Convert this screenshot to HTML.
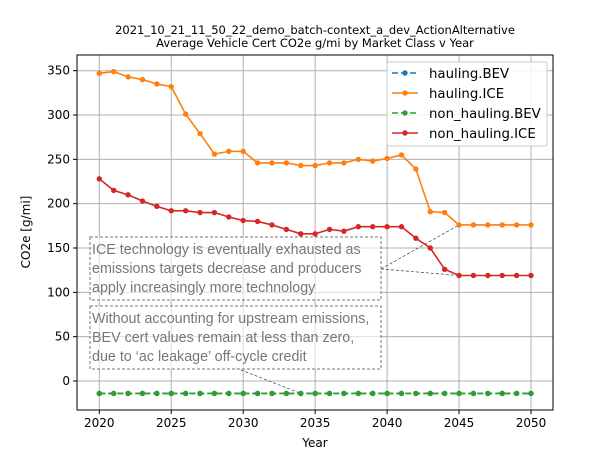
<!DOCTYPE html>
<html><head><meta charset="utf-8"><style>
body{margin:0;background:#fff;}
svg{font-family:"DejaVu Sans","Liberation Sans",sans-serif;}
</style></head><body>
<svg id="chart" width="614" height="461">
<text x="315" y="34" font-size="11.5" text-anchor="middle">2021_10_21_11_50_22_demo_batch-context_a_dev_ActionAlternative</text>
<text x="315" y="47" font-size="11.5" text-anchor="middle">Average Vehicle Cert CO2e g/mi  by Market Class v Year</text>
<g id="grid"></g>
<g id="ann"></g>
<g id="series"></g>
<rect x="77" y="55" width="476" height="355" fill="none" stroke="#000" stroke-width="1"/>
<g id="axes"></g>
<text x="315" y="447" font-size="12" text-anchor="middle">Year</text>
<text transform="translate(30,232) rotate(-90)" font-size="12" text-anchor="middle">CO2e [g/mi]</text>
<g id="legend"></g>
</svg>
<script>
const years=[2020,2021,2022,2023,2024,2025,2026,2027,2028,2029,2030,2031,2032,2033,2034,2035,2036,2037,2038,2039,2040,2041,2042,2043,2044,2045,2046,2047,2048,2049,2050];
const haulingICE=[347,349,343,340,335,332,301,279,256,259,259,246,246,246,243,243,246,246,250,248,251,255,239,191,190,176,176,176,176,176,176];
const nonHaulingICE=[228,215,210,203,197,192,192,190,190,185,181,180,176,171,166,166,171,169,174,174,174,174,161,150,126,119,119,119,119,119,119];
const haulingBEV=years.map(()=>-14);
const nonHaulingBEV=years.map(()=>-14);
const xTicks=[2020,2025,2030,2035,2040,2045,2050];
const yTicks=[0,50,100,150,200,250,300,350];
const seriesNames=["hauling.BEV","hauling.ICE","non_hauling.BEV","non_hauling.ICE"];

const X=v=>99.3+(v-2020)*14.39;
const Y=v=>381-v*0.8866;
const NS="http://www.w3.org/2000/svg";
function mk(tag,attrs,parent){const e=document.createElementNS(NS,tag);for(const k in attrs)e.setAttribute(k,attrs[k]);parent.appendChild(e);return e;}
const grid=document.getElementById('grid'),axes=document.getElementById('axes'),ser=document.getElementById('series'),ann=document.getElementById('ann'),leg=document.getElementById('legend');
xTicks.forEach(t=>{
 const l=mk('line',{x1:X(t),x2:X(t),y1:55,y2:410,stroke:'#b0b0b0','stroke-width':1},grid);
 
 
 mk('line',{x1:X(t),x2:X(t),y1:410,y2:414,stroke:'#000'},axes);
 const tx=mk('text',{x:X(t),y:427,'font-size':12,'text-anchor':'middle'},axes);tx.textContent=t;
 
 
});
yTicks.forEach(t=>{
 const l=mk('line',{x1:77,x2:553,y1:Y(t),y2:Y(t),stroke:'#b0b0b0','stroke-width':1},grid);
 
 
 mk('line',{x1:73,x2:77,y1:Y(t),y2:Y(t),stroke:'#000'},axes);
 const tx=mk('text',{x:70,y:Y(t)+4,'font-size':12,'text-anchor':'end'},axes);tx.textContent=t;
 
 
});
function box(y0,lines,name){
 const r=mk('rect',{x:90,y:y0,width:291,height:63,fill:'#fff','fill-opacity':0.6,stroke:'#777','stroke-dasharray':'3,2'},ann);
 
 
 lines.forEach((s,i)=>{const t=mk('text',{x:92,y:y0+17+i*19,'font-size':14.3,fill:'#777','font-family':'Liberation Sans, DejaVu Sans, sans-serif'},ann);t.textContent=s;
 
 });
}
mk('line',{x1:381,y1:269,x2:X(2045),y2:Y(haulingICE[25]),stroke:'#555','stroke-dasharray':'3,2','stroke-width':0.8},ann);
mk('line',{x1:381,y1:269,x2:X(2045),y2:Y(nonHaulingICE[25]),stroke:'#555','stroke-dasharray':'3,2','stroke-width':0.8},ann);
mk('line',{x1:236,y1:368,x2:X(2034),y2:Y(-14),stroke:'#555','stroke-dasharray':'3,2','stroke-width':0.8},ann);
box(237,["ICE technology  is eventually exhausted as","emissions targets decrease and producers","apply increasingly more technology"],'ice-annotation');
box(306,["Without  accounting for upstream  emissions,","BEV cert values remain  at less than zero,","due to  \u2018ac leakage\u2019 off-cycle credit"],'bev-annotation');
function line(vals,color,dash,name){
 const g=mk('g',{},ser);
 
 
 const p=mk('polyline',{points:vals.map((v,i)=>X(years[i])+','+Y(v)).join(' '),fill:'none',stroke:color,'stroke-width':1.6},g);
 if(dash)p.setAttribute('stroke-dasharray','6,3');
 vals.forEach((v,i)=>{const c=mk('circle',{cx:X(years[i]),cy:Y(v),r:2.7,fill:color},g);
 
 });
}
line(haulingBEV,'#1f77b4',true,'series-hauling-bev');
line(haulingICE,'#ff7f0e',false,'series-hauling-ice');
line(nonHaulingBEV,'#2ca02c',true,'series-non-hauling-bev');
line(nonHaulingICE,'#d62728',false,'series-non-hauling-ice');
const lb=mk('rect',{x:387,y:62,width:160,height:84,fill:'#fff','fill-opacity':0.85,stroke:'#ccc',rx:2},leg);


const lc=['#1f77b4','#ff7f0e','#2ca02c','#d62728'];
seriesNames.forEach((n,i)=>{
 const y=73+i*20;
 const g=mk('g',{},leg);
 
 
 const l=mk('line',{x1:392,x2:418,y1:y,y2:y,stroke:lc[i],'stroke-width':1.6},g);
 if(i%2==0)l.setAttribute('stroke-dasharray','6,3');
 mk('circle',{cx:405,cy:y,r:2.7,fill:lc[i]},g);
 const t=mk('text',{x:429,y:y+5,'font-size':13.3},g);t.textContent=n;
});
</script>
</body></html>
